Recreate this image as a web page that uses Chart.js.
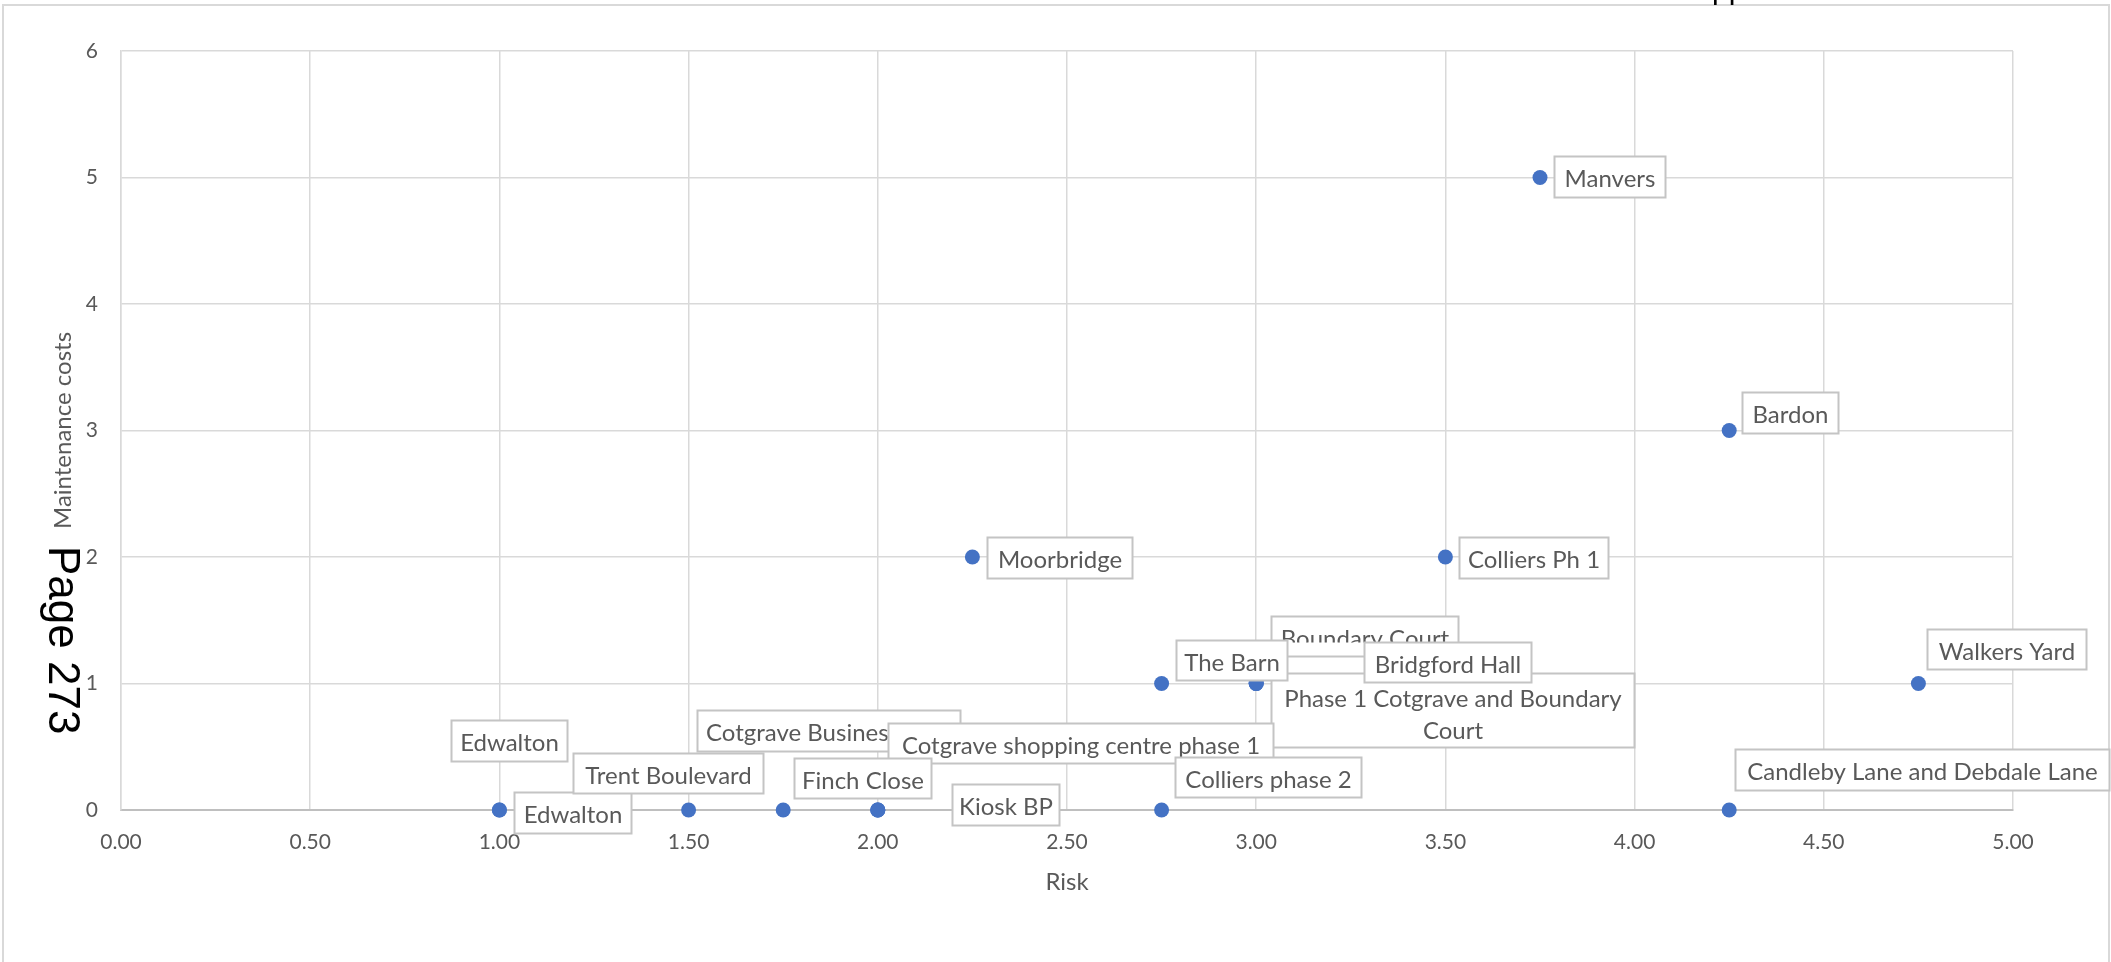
<!DOCTYPE html>
<html>
<head>
<meta charset="utf-8">
<title>Risk vs maintenance costs</title>
<script src="https://cdn.jsdelivr.net/npm/chart.js@4.4.1/dist/chart.umd.min.js"></script>
<style>
  html, body { margin: 0; padding: 0; background: #ffffff; overflow: hidden; }
  canvas { display: block; }
</style>
</head>
<body>
<canvas id="chart" width="2111" height="962"></canvas>
<script>
// Sites, in drawing order of their callouts
const siteNames = [
  'Manvers',
  'Bardon',
  'Moorbridge',
  'Colliers Ph 1',
  'Walkers Yard',
  'Boundary Court',
  'Phase 1 Cotgrave and Boundary Court',
  'The Barn',
  'Bridgford Hall',
  'Edwalton',
  'Edwalton',
  'Trent Boulevard',
  'Cotgrave Business Park',
  'Cotgrave shopping centre phase 1',
  'Finch Close',
  'Kiosk BP',
  'Colliers phase 2',
  'Candleby Lane and Debdale Lane'
];
const riskScores = [3.75, 4.25, 2.25, 3.5, 4.75, 3.0, 3.0, 2.75, 3.0, 1.0, 1.0, 1.5, 1.75, 2.0, 2.0, 2.0, 2.75, 4.25];
const maintenanceCosts = [5, 3, 2, 2, 1, 1, 1, 1, 1, 0, 0, 0, 0, 0, 0, 0, 0, 0];

const riskTicks = [0, 0.5, 1, 1.5, 2, 2.5, 3, 3.5, 4, 4.5, 5];
const costTicks = [0, 1, 2, 3, 4, 5, 6];

// Callout boxes: offset from the point (px), box size, optional visible text height
const calloutLayout = [
  { dx: 14,   dy: -21,   w: 111, h: 41 },
  { dx: 13,   dy: -38.5, w: 96,  h: 41 },
  { dx: 15,   dy: -20,   w: 145, h: 41 },
  { dx: 14,   dy: -20,   w: 149, h: 41 },
  { dx: 9,    dy: -54.5, w: 159, h: 40 },
  { dx: 15,   dy: -67.5, w: 187, h: 40, textH: 27 },
  { dx: 15,   dy: -10.5, w: 363, h: 74, wrap: true },
  { dx: 14,   dy: -43.5, w: 111, h: 40 },
  { dx: 108,  dy: -41.5, w: 167, h: 40 },
  { dx: -48,  dy: -90,   w: 116, h: 41 },
  { dx: 15,   dy: -18,   w: 117, h: 41 },
  { dx: -116, dy: -57,   w: 190, h: 40 },
  { dx: -86,  dy: -100,  w: 263, h: 41 },
  { dx: 10,   dy: -87,   w: 385, h: 40 },
  { dx: -84,  dy: -52,   w: 137, h: 40 },
  { dx: 74,   dy: -26,   w: 107, h: 41 },
  { dx: 13,   dy: -53,   w: 186, h: 40 },
  { dx: 6,    dy: -61,   w: 374, h: 41 }
];

const TEXT_GREY = '#595959';
const GRID_GREY = '#d9d9d9';
const FONT = 'Lato, "Open Sans", sans-serif';

function wrapWords(ctx, text, maxWidth) {
  const words = text.split(' ');
  const lines = [];
  let cur = '';
  words.forEach(w => {
    const test = cur ? cur + ' ' + w : w;
    if (cur && ctx.measureText(test).width > maxWidth) {
      lines.push(cur);
      cur = w;
    } else {
      cur = test;
    }
  });
  if (cur) lines.push(cur);
  return lines;
}

// White page, light frame around the chart
const framePlugin = {
  id: 'frame',
  beforeDraw(chart) {
    const { ctx, width, height } = chart;
    ctx.save();
    ctx.fillStyle = '#ffffff';
    ctx.fillRect(0, 0, width, height);
    ctx.strokeStyle = GRID_GREY;
    ctx.lineWidth = 2;
    ctx.strokeRect(3, 5, width - 5, height + 20);
    ctx.restore();
  }
};

// Boxed name callouts next to each point
const calloutPlugin = {
  id: 'callouts',
  afterDatasetsDraw(chart) {
    const { ctx } = chart;
    const meta = chart.getDatasetMeta(0);
    ctx.save();
    ctx.font = '24px ' + FONT;
    meta.data.forEach((pt, i) => {
      const L = calloutLayout[i];
      const x = Math.round(pt.x + L.dx) + 0.5;
      const y = Math.round(pt.y + L.dy) + 0.5;
      ctx.fillStyle = '#ffffff';
      ctx.fillRect(x, y, L.w, L.h);
      ctx.strokeStyle = '#c4c4c4';
      ctx.lineWidth = 2;
      ctx.strokeRect(x, y, L.w, L.h);

      const lines = L.wrap ? wrapWords(ctx, siteNames[i], L.w - 14) : [siteNames[i]];
      ctx.save();
      ctx.beginPath();
      ctx.rect(x + 1, y + 1, L.w - 2, (L.textH || L.h) - 2);
      ctx.clip();
      ctx.fillStyle = TEXT_GREY;
      ctx.textAlign = 'center';
      ctx.textBaseline = 'alphabetic';
      const lineGap = 32;
      const cy = y + L.h / 2 + (lines.length > 1 ? 2 : 0);
      lines.forEach((s, k) => {
        const lc = cy + (k - (lines.length - 1) / 2) * lineGap;
        ctx.fillText(s, x + L.w / 2, lc + 10);
      });
      ctx.restore();
    });
    ctx.restore();
  },
  afterDraw(chart) {
    const { ctx } = chart;
    ctx.save();
    ctx.fillStyle = '#000000';
    // page heading running off the top edge
    ctx.font = '30px "Liberation Sans", Arial, sans-serif';
    ctx.textAlign = 'left';
    ctx.textBaseline = 'alphabetic';
    ctx.fillText('Appendix', 1692, -1.5);
    // page number in the margin, rotated
    ctx.translate(48.5, 546);
    ctx.rotate(Math.PI / 2);
    ctx.font = '44px "Liberation Sans", Arial, sans-serif';
    ctx.fillText('Page 273', 0, 0);
    ctx.restore();
  }
};

new Chart(document.getElementById('chart'), {
  type: 'scatter',
  data: {
    datasets: [{
      data: riskScores.map((r, i) => ({ x: r, y: maintenanceCosts[i] })),
      backgroundColor: '#4472C4',
      borderWidth: 0,
      pointRadius: 7.5,
      pointHoverRadius: 7.5,
      clip: false
    }]
  },
  options: {
    responsive: false,
    animation: false,
    devicePixelRatio: 1,
    layout: { padding: { top: 51, right: 98, bottom: 52, left: 0 } },
    plugins: { legend: { display: false }, tooltip: { enabled: false } },
    scales: {
      x: {
        type: 'linear',
        position: 'bottom',
        min: 0,
        max: 5,
        afterBuildTicks(s) { s.ticks = riskTicks.map(v => ({ value: v })); },
        afterFit(s) { s.height = 100; },
        ticks: {
          callback: v => Number(v).toFixed(2),
          color: TEXT_GREY,
          font: { family: FONT, size: 21 },
          padding: 20,
          maxRotation: 0,
          autoSkip: false
        },
        grid: { color: GRID_GREY, lineWidth: 1.5, drawTicks: false },
        border: { color: '#bfbfbf', width: 2 },
        title: {
          display: true,
          text: 'Risk',
          color: TEXT_GREY,
          font: { family: FONT, size: 24 },
          padding: { top: 0, bottom: 13 }
        }
      },
      y: {
        type: 'linear',
        min: 0,
        max: 6,
        afterBuildTicks(s) { s.ticks = costTicks.map(v => ({ value: v })); },
        afterFit(s) { s.width = 121; },
        ticks: {
          callback: v => String(v),
          color: TEXT_GREY,
          font: { family: FONT, size: 21 },
          padding: 23
        },
        grid: { color: GRID_GREY, lineWidth: 1.5, drawTicks: false },
        border: { color: GRID_GREY, width: 1.5 },
        title: {
          display: true,
          text: 'Maintenance costs',
          color: TEXT_GREY,
          font: { family: FONT, size: 24 },
          padding: { top: 49, bottom: 0 }
        }
      }
    }
  },
  plugins: [framePlugin, calloutPlugin]
});
</script>
</body>
</html>
